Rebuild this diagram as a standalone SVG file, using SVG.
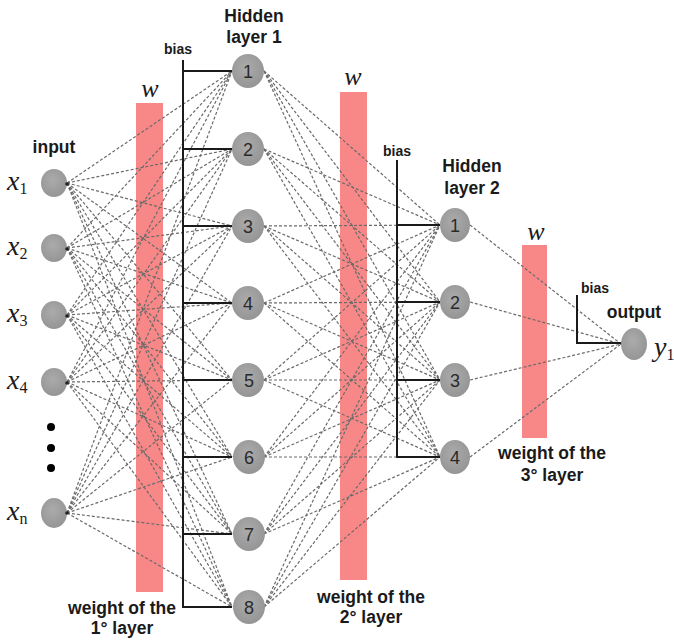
<svg xmlns="http://www.w3.org/2000/svg" width="674" height="640" viewBox="0 0 674 640">
<defs>
<radialGradient id="ng" cx="45%" cy="40%" r="60%">
<stop offset="0" stop-color="#ababab"/>
<stop offset="1" stop-color="#959595"/>
</radialGradient>
<style>
.wrect{fill:#f88888;}
.node{fill:url(#ng);}
.conn line{stroke:#6a6a6a;stroke-width:1.2;stroke-dasharray:3 2;}
.bias{stroke:#1a1a1a;stroke-width:2;fill:none;}
.lbl{font-family:"Liberation Sans",Arial,sans-serif;font-weight:bold;fill:#1a1a1a;text-anchor:middle;}
.big{font-size:17.5px;}
.small{font-size:14px;}
.num{font-family:"Liberation Sans",Arial,sans-serif;font-size:18px;fill:#2a2a2a;text-anchor:middle;}
.math{font-family:"Liberation Serif","Times New Roman",serif;font-style:italic;fill:#1a1a1a;}
.sub{font-style:normal;font-size:16px;}
</style>
</defs>
<rect width="674" height="640" fill="#ffffff"/>

<g id="weights">
<rect class="wrect" x="136" y="103" width="27" height="489"/>
<rect class="wrect" x="340" y="92" width="27" height="488"/>
<rect class="wrect" x="522" y="245" width="25" height="193"/>
</g>

<g id="connectors" class="conn">
<line x1="67" y1="183" x2="232" y2="71"/><line x1="67" y1="183" x2="232" y2="149"/><line x1="67" y1="183" x2="232" y2="226"/><line x1="67" y1="183" x2="232" y2="303"/><line x1="67" y1="183" x2="232" y2="380"/><line x1="67" y1="183" x2="232" y2="457"/><line x1="67" y1="183" x2="232" y2="534"/><line x1="67" y1="183" x2="232" y2="607"/>
<line x1="67" y1="248" x2="232" y2="71"/><line x1="67" y1="248" x2="232" y2="149"/><line x1="67" y1="248" x2="232" y2="226"/><line x1="67" y1="248" x2="232" y2="303"/><line x1="67" y1="248" x2="232" y2="380"/><line x1="67" y1="248" x2="232" y2="457"/><line x1="67" y1="248" x2="232" y2="534"/><line x1="67" y1="248" x2="232" y2="607"/>
<line x1="67" y1="315" x2="232" y2="71"/><line x1="67" y1="315" x2="232" y2="149"/><line x1="67" y1="315" x2="232" y2="226"/><line x1="67" y1="315" x2="232" y2="303"/><line x1="67" y1="315" x2="232" y2="380"/><line x1="67" y1="315" x2="232" y2="457"/><line x1="67" y1="315" x2="232" y2="534"/><line x1="67" y1="315" x2="232" y2="607"/>
<line x1="67" y1="382" x2="232" y2="71"/><line x1="67" y1="382" x2="232" y2="149"/><line x1="67" y1="382" x2="232" y2="226"/><line x1="67" y1="382" x2="232" y2="303"/><line x1="67" y1="382" x2="232" y2="380"/><line x1="67" y1="382" x2="232" y2="457"/><line x1="67" y1="382" x2="232" y2="534"/><line x1="67" y1="382" x2="232" y2="607"/>
<line x1="67" y1="513" x2="232" y2="71"/><line x1="67" y1="513" x2="232" y2="149"/><line x1="67" y1="513" x2="232" y2="226"/><line x1="67" y1="513" x2="232" y2="303"/><line x1="67" y1="513" x2="232" y2="380"/><line x1="67" y1="513" x2="232" y2="457"/><line x1="67" y1="513" x2="232" y2="534"/><line x1="67" y1="513" x2="232" y2="607"/>
<line x1="264" y1="71" x2="440" y2="225"/><line x1="264" y1="71" x2="440" y2="302"/><line x1="264" y1="71" x2="440" y2="380"/><line x1="264" y1="71" x2="440" y2="457"/>
<line x1="264" y1="149" x2="440" y2="225"/><line x1="264" y1="149" x2="440" y2="302"/><line x1="264" y1="149" x2="440" y2="380"/><line x1="264" y1="149" x2="440" y2="457"/>
<line x1="264" y1="226" x2="440" y2="225"/><line x1="264" y1="226" x2="440" y2="302"/><line x1="264" y1="226" x2="440" y2="380"/><line x1="264" y1="226" x2="440" y2="457"/>
<line x1="264" y1="303" x2="440" y2="225"/><line x1="264" y1="303" x2="440" y2="302"/><line x1="264" y1="303" x2="440" y2="380"/><line x1="264" y1="303" x2="440" y2="457"/>
<line x1="264" y1="380" x2="440" y2="225"/><line x1="264" y1="380" x2="440" y2="302"/><line x1="264" y1="380" x2="440" y2="380"/><line x1="264" y1="380" x2="440" y2="457"/>
<line x1="264" y1="457" x2="440" y2="225"/><line x1="264" y1="457" x2="440" y2="302"/><line x1="264" y1="457" x2="440" y2="380"/><line x1="264" y1="457" x2="440" y2="457"/>
<line x1="264" y1="534" x2="440" y2="225"/><line x1="264" y1="534" x2="440" y2="302"/><line x1="264" y1="534" x2="440" y2="380"/><line x1="264" y1="534" x2="440" y2="457"/>
<line x1="264" y1="607" x2="440" y2="225"/><line x1="264" y1="607" x2="440" y2="302"/><line x1="264" y1="607" x2="440" y2="380"/><line x1="264" y1="607" x2="440" y2="457"/>
<line x1="470" y1="225" x2="621" y2="344"/><line x1="470" y1="302" x2="621" y2="344"/><line x1="470" y1="380" x2="621" y2="344"/><line x1="470" y1="457" x2="621" y2="344"/>
</g>

<g id="bias1">
<path class="bias" d="M183 60 V608 M183 71 H232 M183 149 H232 M183 226 H232 M183 303 H232 M183 380 H232 M183 457 H232 M183 534 H232 M183 607 H232"/>
<text class="lbl small" x="178" y="54">bias</text>
</g>
<g id="bias2">
<path class="bias" d="M397 160 V458 M397 225 H440 M397 302 H440 M397 380 H440 M397 457 H440"/>
<text class="lbl small" x="397" y="156">bias</text>
</g>
<g id="bias3">
<path class="bias" d="M577 295 V343 H622"/>
<text class="lbl small" x="595" y="293">bias</text>
</g>

<g id="input-x1"><ellipse class="node" cx="54" cy="183" rx="13" ry="14"/><circle cx="67" cy="184" r="1.8" fill="#222"/><text class="math" x="7" y="190" font-size="28">x<tspan class="sub" dy="4">1</tspan></text></g>
<g id="input-x2"><ellipse class="node" cx="54" cy="248" rx="13" ry="14"/><circle cx="67" cy="249" r="1.8" fill="#222"/><text class="math" x="7" y="255" font-size="28">x<tspan class="sub" dy="4">2</tspan></text></g>
<g id="input-x3"><ellipse class="node" cx="54" cy="315" rx="13" ry="14"/><circle cx="67" cy="316" r="1.8" fill="#222"/><text class="math" x="7" y="322" font-size="28">x<tspan class="sub" dy="4">3</tspan></text></g>
<g id="input-x4"><ellipse class="node" cx="54" cy="382" rx="13" ry="14"/><circle cx="67" cy="383" r="1.8" fill="#222"/><text class="math" x="7" y="389" font-size="28">x<tspan class="sub" dy="4">4</tspan></text></g>
<g id="input-dots"><circle cx="51" cy="427" r="4" fill="#000"/><circle cx="51" cy="448" r="4" fill="#000"/><circle cx="51" cy="468" r="4" fill="#000"/></g>
<g id="input-xn"><ellipse class="node" cx="54" cy="513" rx="13" ry="15"/><circle cx="67" cy="513" r="1.8" fill="#222"/><text class="math" x="7" y="520" font-size="28">x<tspan class="sub" dy="4" font-style="italic">n</tspan></text></g>

<g id="h1-1"><ellipse class="node" cx="248" cy="71" rx="16" ry="17"/><text class="num" x="248" y="78">1</text></g>
<g id="h1-2"><ellipse class="node" cx="248" cy="149" rx="16" ry="17"/><text class="num" x="248" y="156">2</text></g>
<g id="h1-3"><ellipse class="node" cx="248" cy="226" rx="16" ry="17"/><text class="num" x="248" y="233">3</text></g>
<g id="h1-4"><ellipse class="node" cx="248" cy="303" rx="16" ry="17"/><text class="num" x="248" y="310">4</text></g>
<g id="h1-5"><ellipse class="node" cx="248" cy="380" rx="16" ry="17"/><text class="num" x="249" y="387">5</text></g>
<g id="h1-6"><ellipse class="node" cx="249" cy="457" rx="16" ry="17"/><text class="num" x="249" y="464">6</text></g>
<g id="h1-7"><ellipse class="node" cx="249" cy="534" rx="16" ry="17"/><text class="num" x="249" y="541">7</text></g>
<g id="h1-8"><ellipse class="node" cx="249" cy="607" rx="16" ry="17"/><text class="num" x="249" y="614">8</text></g>

<g id="h2-1"><ellipse class="node" cx="455" cy="225" rx="15" ry="17"/><text class="num" x="455" y="232">1</text></g>
<g id="h2-2"><ellipse class="node" cx="455" cy="302" rx="15" ry="17"/><text class="num" x="455" y="309">2</text></g>
<g id="h2-3"><ellipse class="node" cx="455" cy="380" rx="15" ry="17"/><text class="num" x="455" y="387">3</text></g>
<g id="h2-4"><ellipse class="node" cx="455" cy="457" rx="15" ry="17"/><text class="num" x="455" y="464">4</text></g>

<g id="output"><ellipse class="node" cx="634" cy="344" rx="13" ry="16"/><text class="math" x="654" y="356" font-size="28">y<tspan class="sub" dy="4">1</tspan></text></g>

<g id="labels">
<text class="lbl big" x="254" y="22">Hidden</text>
<text class="lbl big" x="254" y="43">layer 1</text>
<text class="lbl big" x="54" y="153">input</text>
<text class="lbl big" x="472" y="172">Hidden</text>
<text class="lbl big" x="472" y="194">layer 2</text>
<text class="lbl big" x="634" y="318">output</text>
<text class="lbl big" x="122" y="614">weight of the</text>
<text class="lbl big" x="122" y="634">1° layer</text>
<text class="lbl big" x="371" y="603">weight of the</text>
<text class="lbl big" x="371" y="623">2° layer</text>
<text class="lbl big" x="552" y="459">weight of the</text>
<text class="lbl big" x="552" y="481">3° layer</text>
<text class="math" x="150" y="97" font-size="26" text-anchor="middle">w</text>
<text class="math" x="353" y="85" font-size="26" text-anchor="middle">w</text>
<text class="math" x="536" y="240" font-size="26" text-anchor="middle">w</text>
</g>
</svg>
